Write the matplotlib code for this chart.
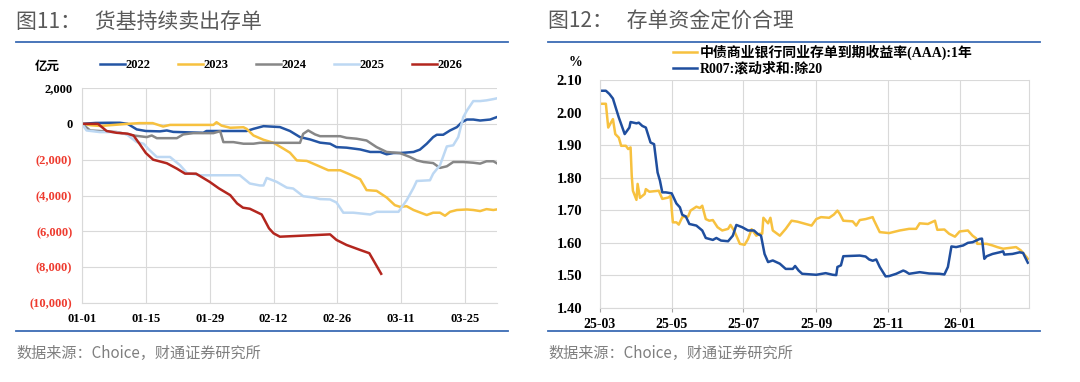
import matplotlib
matplotlib.use("Agg")
import matplotlib.pyplot as plt
from matplotlib.lines import Line2D
import numpy as np
import pandas as pd

plt.rcParams['font.family'] = ['Liberation Serif', 'Noto Sans CJK SC']

# ---------- left chart: days since 01-01, 亿元 ----------
d2022 = [0, 3, 6.1, 8.3, 10, 12, 14, 17.1, 18.6, 20, 26.6, 27.3, 36.1, 37.6, 39.8, 41.2, 43.4,
         45.6, 47.8, 50, 52.2, 54.4, 55.8, 58, 61, 63.2, 65.4, 66.8, 68.3, 69.7, 72.7, 74.1,
         75.6, 77, 77.8, 79.2, 80.7, 82.2, 83.3, 84.4, 85.8, 87.3, 89.5, 90.9]
v2022 = [0, 50, 60, 60, 0, -310, -400, -420, -370, -450, -500, -400, -400, -280, -130, -150, -180,
         -400, -740, -870, -1050, -1110, -1300, -1330, -1430, -1570, -1570, -1700, -1630, -1630, -1570, -1440,
         -1110, -740, -610, -610, -370, -185, 90, 240, 240, 185, 240, 370]

d2023 = [0, 2, 4, 7, 10, 12.6, 15.5, 17.8, 19.3, 28.8, 29.5, 30.6, 32.5, 35.4, 36.1, 37.6, 39.8,
         42, 44.2, 45.6, 47.1, 49.3, 51.5, 54, 56.6, 58.8, 61, 62.4, 64.6, 66.8, 68.6, 69.7,
         71.2, 72.7, 75.6, 77, 78.5, 79.6, 80.7, 82.2, 84.4, 85.8, 87.3, 88.7, 90.2, 90.9]
v2023 = [0, -80, -120, -60, 0, 40, 40, -150, -60, -60, 90, -100, -220, -190, -280, -650, -890,
         -1060, -1390, -1610, -2040, -2070, -2310, -2590, -2590, -2830, -3090, -3700, -3740, -4110, -4540, -4630,
         -4600, -4810, -5090, -4960, -4960, -5130, -4910, -4810, -4780, -4810, -4870, -4760, -4810, -4780]

d2024 = [0, 1.8, 3.9, 7.6, 11.3, 14.2, 15.3, 16.4, 20.8, 22.2, 24.4, 28.8, 30.3, 31, 33.2, 35.4,
         37.6, 39, 47.8, 48.5, 49.6, 51.1, 52.2, 56.6, 58, 60.2, 62.4, 64.6, 66.8, 69.7, 71.9,
         73.4, 74.9, 77, 78.5, 80, 81.4, 83.6, 85.8, 87.3, 88.7, 90.2, 90.9]
v2024 = [0, -370, -400, -460, -650, -740, -650, -800, -800, -590, -520, -520, -410, -1020, -1020, -1110,
         -1110, -1060, -1060, -560, -370, -590, -690, -690, -780, -830, -930, -1300, -1570, -1630, -1850,
         -2040, -2130, -2190, -2460, -2370, -2130, -2130, -2170, -2220, -2090, -2090, -2190]

d2025 = [0, 1, 3.9, 7.6, 9.8, 12, 13.5, 14.5, 16.4, 19.3, 21.5, 23, 25.9, 34.6, 36.8, 39, 39.8,
         40.5, 42.7, 44.9, 46.3, 48.5, 50.7, 52.2, 54.4, 55.8, 57.3, 59.5, 61, 63.2, 64.6, 66.8,
         69.4, 71.2, 72.7, 73.4, 76.3, 77, 78.5, 80, 81.4, 82.5, 83.6, 84.4, 85.8, 87.3, 88.7, 90.2, 90.9]
v2025 = [0, -370, -460, -460, -590, -1020, -1110, -1390, -1850, -1850, -2310, -2740, -2870, -2870, -3330, -3440, -3440,
         -3020, -3240, -3560, -3610, -4040, -4110, -4200, -4220, -4390, -4960, -4960, -5000, -5060, -4910, -4910,
         -4910, -4260, -3570, -3190, -3150, -2780, -2310, -1260, -1200, -740, 370, 740, 1270, 1270, 1310, 1380, 1420]

d2026 = [0, 3.5, 5.4, 7.6, 10, 11.3, 12.6, 14, 15.6, 18.6, 20.8, 22.6, 25, 28, 30, 32.5, 34,
         35.3, 36.8, 39.4, 41, 42, 43.4, 54.4, 55.8, 58, 61, 63, 65.6]
v2026 = [0, 0, -400, -500, -550, -650, -1110, -1630, -2000, -2200, -2500, -2780, -2780, -3240, -3600, -3980, -4440,
         -4680, -4740, -5060, -5830, -6110, -6300, -6170, -6480, -6760, -7040, -7220, -8370]

years = ['2022', '2023', '2024', '2025', '2026']
year_days = [d2022, d2023, d2024, d2025, d2026]
year_vals = [v2022, v2023, v2024, v2025, v2026]
year_colors = ['#2455A4', '#F7C13F', '#878787', '#BDD8F3', '#B3261E']

left_ticks = [0, 14, 28, 42, 56, 70, 84]
left_labels = ['01-01', '01-15', '01-29', '02-12', '02-26', '03-11', '03-25']

# ---------- right chart: days since 2025-03-01, % ----------
cd_days = [0, 5, 7, 11, 13, 16, 18, 22, 24, 26, 27, 28, 31, 32, 34, 38, 39, 42, 50, 53, 58, 60,
           62, 65, 67, 70, 75, 77, 82, 85, 87, 90, 93, 96, 100, 104, 109, 111, 114, 116, 119, 123,
           126, 129, 133, 136, 138, 139, 143, 145, 147, 153, 158, 163, 168, 175, 180, 184, 188, 195,
           199, 202, 204, 207, 215, 218, 221, 226, 232, 233, 238, 246, 255, 263, 269, 272, 279, 285,
           287, 293, 297, 302, 306, 313, 317, 320, 321, 329, 334, 338, 343, 354, 358, 363, 364]
cd_vals = [2.027, 2.027, 1.954, 1.980, 1.934, 1.923, 1.898, 1.898, 1.888, 1.893, 1.806, 1.760, 1.732, 1.781,
           1.738, 1.750, 1.765, 1.757, 1.760, 1.735, 1.739, 1.744, 1.663, 1.663, 1.656, 1.679, 1.681, 1.699,
           1.711, 1.707, 1.714, 1.673, 1.668, 1.670, 1.648, 1.638, 1.643, 1.655, 1.638, 1.622, 1.597, 1.594,
           1.612, 1.642, 1.622, 1.628, 1.628, 1.677, 1.660, 1.677, 1.638, 1.622, 1.643, 1.668, 1.665, 1.658,
           1.653, 1.673, 1.679, 1.677, 1.687, 1.699, 1.689, 1.668, 1.666, 1.653, 1.670, 1.673, 1.679, 1.670,
           1.633, 1.630, 1.638, 1.643, 1.643, 1.660, 1.658, 1.668, 1.640, 1.641, 1.628, 1.619, 1.635, 1.638,
           1.622, 1.614, 1.597, 1.597, 1.592, 1.587, 1.582, 1.587, 1.577, 1.556, 1.551]

r007_days = [0, 5, 8, 11, 14, 16, 21, 25, 26, 31, 33, 36, 39, 43, 46, 49, 51, 53, 56, 61, 65, 68,
             70, 73, 76, 82, 87, 90, 96, 99, 103, 109, 113, 116, 121, 126, 131, 134, 137, 140, 143,
             147, 153, 158, 164, 166, 169, 172, 184, 192, 198, 201, 202, 205, 207, 221, 226, 229, 232,
             235, 238, 243, 246, 252, 258, 260, 263, 272, 280, 289, 293, 296, 299, 303, 309, 313, 317,
             323, 325, 327, 329, 334, 340, 343, 344, 351, 357, 360, 361, 364]
r007_vals = [2.067, 2.067, 2.057, 2.043, 2.008, 1.985, 1.934, 1.954, 1.971, 1.967, 1.969, 1.959, 1.954,
             1.908, 1.903, 1.816, 1.791, 1.755, 1.755, 1.752, 1.721, 1.709, 1.686, 1.681, 1.658, 1.653,
             1.638, 1.615, 1.609, 1.615, 1.607, 1.605, 1.622, 1.655, 1.648, 1.638, 1.638, 1.628, 1.622,
             1.566, 1.541, 1.546, 1.536, 1.520, 1.520, 1.529, 1.515, 1.505, 1.502, 1.507, 1.502, 1.501,
             1.526, 1.531, 1.559, 1.561, 1.558, 1.549, 1.545, 1.549, 1.526, 1.497, 1.498, 1.505, 1.515,
             1.512, 1.505, 1.510, 1.506, 1.505, 1.503, 1.526, 1.589, 1.587, 1.592, 1.600, 1.602, 1.612,
             1.613, 1.551, 1.559, 1.566, 1.571, 1.574, 1.564, 1.566, 1.571, 1.569, 1.561, 1.539]

right_ticks = ['2025-03-01', '2025-05-01', '2025-07-01', '2025-09-01', '2025-11-01', '2026-01-01']
cd_name = '中债商业银行同业存单到期收益率(AAA):1年'
r007_name = 'R007:滚动求和:除20'

grey_txt = '#595959'
rule_blue = '#3A6BB4'
grid_c = '#D9D9D9'
neg_red = '#EE3B2F'

fig = plt.figure(figsize=(10.8, 3.82), dpi=100)

# titles, rules and source lines
for x0, x1, title in [(16, 508, '图11：   货基持续卖出存单'), (548, 1040, '图12：   存单资金定价合理')]:
    fig.text(x0 / 1080, 1 - 22 / 382, title, fontsize=15, color=grey_txt,
             family=['Noto Sans CJK SC'], va='center', ha='left')
    fig.add_artist(Line2D([x0 / 1080, x1 / 1080], [1 - 42 / 382] * 2, color=rule_blue, lw=1.3))
    fig.add_artist(Line2D([x0 / 1080, x1 / 1080], [1 - 331 / 382] * 2, color=rule_blue, lw=1.3))
    fig.text(x0 / 1080, 1 - 353 / 382, '数据来源：Choice，财通证券研究所', fontsize=10.9,
             color='#7F7F7F', family=['Noto Sans CJK SC'], va='center', ha='left')

# ---------- left ----------
ax1 = fig.add_axes([82 / 1080, 1 - 303 / 382, 415 / 1080, 215 / 382])
for name, dd, vv, c in zip(years, year_days, year_vals, year_colors):
    ax1.plot(dd, vv, color=c, lw=1.8, label=name)
ax1.set_xlim(0, 91)
ax1.set_ylim(-10000, 2000)
ax1.set_xticks(left_ticks)
ax1.set_xticklabels(left_labels)
yt = np.arange(-10000, 2001, 2000)
ax1.set_yticks(yt)
ax1.set_yticklabels([f'({abs(v):,})' if v < 0 else f'{v:,}' for v in yt])
for lab, v in zip(ax1.get_yticklabels(), yt):
    lab.set_color(neg_red if v < 0 else 'black')
ax1.grid(True, color=grid_c, lw=0.8)
ax1.set_axisbelow(True)
for s in ['top', 'right']:
    ax1.spines[s].set_visible(False)
for s in ['left', 'bottom']:
    ax1.spines[s].set_color(grid_c)
ax1.tick_params(length=0, labelsize=9, pad=7)
for lab in ax1.get_xticklabels() + ax1.get_yticklabels():
    lab.set_fontweight('bold')
ax1.legend(loc='center left', bbox_to_anchor=(18 / 415, 1 + 23 / 215), ncol=5, frameon=False,
           prop={'weight': 'bold', 'size': 9}, handlelength=2.0, handletextpad=0.08,
           columnspacing=2.15, borderaxespad=0, borderpad=0)
fig.text(47 / 1080, 1 - 66 / 382, '亿元', fontsize=9, fontweight='bold', ha='center', va='center',
         family=['Noto Sans CJK SC'])

# ---------- right ----------
start = pd.Timestamp('2025-03-01')
ax2 = fig.add_axes([600 / 1080, 1 - 308 / 382, 429 / 1080, 228 / 382])
ax2.plot(start + pd.to_timedelta(cd_days, unit='D'), cd_vals, color='#F7C13F', lw=1.8, label=cd_name)
ax2.plot(start + pd.to_timedelta(r007_days, unit='D'), r007_vals, color='#1F4E9E', lw=1.8, label=r007_name)
ax2.set_xlim(start, start + pd.Timedelta(days=365))
ax2.set_ylim(1.40, 2.10)
ax2.set_yticks(np.arange(1.40, 2.101, 0.10))
ax2.yaxis.set_major_formatter(plt.FormatStrFormatter('%.2f'))
tk = pd.to_datetime(right_ticks)
ax2.set_xticks(tk)
ax2.set_xticklabels([t.strftime('%y-%m') for t in tk])
ax2.grid(True, color=grid_c, lw=0.8)
ax2.set_axisbelow(True)
ax2.spines['top'].set_visible(False)
for s in ['left', 'right', 'bottom']:
    ax2.spines[s].set_color(grid_c)
ax2.tick_params(axis='y', length=0, labelsize=10.5, pad=13)
ax2.tick_params(axis='x', length=3, color='#A6A6A6', labelsize=10, pad=4)
for lab in ax2.get_xticklabels() + ax2.get_yticklabels():
    lab.set_fontweight('bold')
ax2.legend(loc='upper left', bbox_to_anchor=(73 / 429, 1 + 35 / 228), ncol=1, frameon=False,
           prop={'weight': 'bold', 'size': 10, 'family': ['Liberation Serif', 'Noto Sans CJK SC']},
           handlelength=1.75, handletextpad=0.15, labelspacing=0.15, borderaxespad=0, borderpad=0)
fig.text(575 / 1080, 1 - 62 / 382, '%', fontsize=10, fontweight='bold', ha='center', va='center')

fig.savefig('out.png', dpi=100)
